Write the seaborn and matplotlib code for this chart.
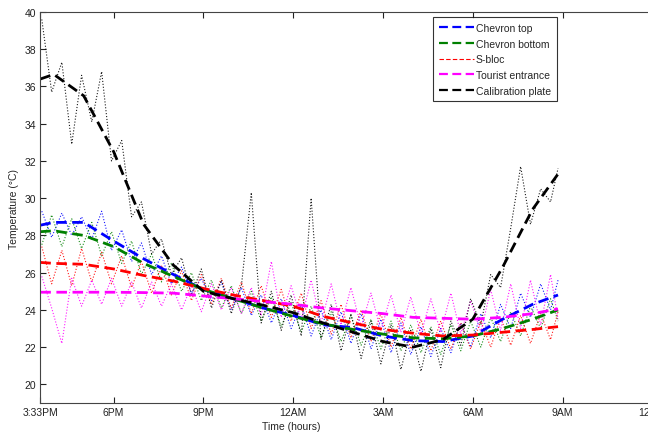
import numpy as np
import pandas as pd
import seaborn as sns
import matplotlib.pyplot as plt
from matplotlib.lines import Line2D

# Fitted (smoothed) curves, hours since midnight of day 1
fit_hours = [15.55, 16, 17, 18, 19, 20, 21, 22, 23, 24, 25, 26, 27, 28, 29, 30, 31, 32, 32.85]
fit_chevron_top = [28.55, 28.7, 28.7, 27.7, 26.75, 25.9, 25.1, 24.6, 24.1, 23.7, 23.2, 23.05, 22.6,
                   22.35, 22.3, 22.6, 23.5, 24.3, 24.8]
fit_chevron_bottom = [28.2, 28.25, 28.0, 27.4, 26.5, 25.8, 25.1, 24.6, 24.1, 23.65, 23.25, 22.95, 22.7,
                      22.5, 22.45, 22.6, 23.0, 23.5, 24.0]
fit_s_bloc = [26.55, 26.5, 26.45, 26.2, 25.85, 25.55, 25.15, 24.8, 24.5, 24.2, 23.65, 23.3, 22.95,
              22.75, 22.6, 22.65, 22.8, 22.95, 23.1]
fit_tourist = [24.95, 24.95, 24.95, 24.95, 24.93, 24.9, 24.75, 24.6, 24.45, 24.3, 24.1, 23.95, 23.8,
               23.6, 23.55, 23.5, 23.6, 23.8, 24.05]
fit_calibration = [36.4, 36.65, 35.5, 32.5, 28.6, 26.4, 25.0, 24.6, 24.25, 23.85, 23.3, 22.8, 22.3,
                   22.0, 22.4, 23.5, 26.3, 29.4, 31.3]

# Raw logger readings (every 20 min)
raw_hours = [15.6, 15.93, 16.27, 16.6, 16.93, 17.27, 17.6, 17.93, 18.27, 18.6, 18.93, 19.27, 19.6,
             19.93, 20.27, 20.6, 20.93, 21.27, 21.6, 21.93, 22.27, 22.6, 22.93, 23.27, 23.6, 23.93,
             24.27, 24.6, 24.93, 25.27, 25.6, 25.93, 26.27, 26.6, 26.93, 27.27, 27.6, 27.93, 28.27,
             28.6, 28.93, 29.27, 29.6, 29.93, 30.27, 30.6, 30.93, 31.27, 31.6, 31.93, 32.27, 32.6, 32.85]
raw_chevron_top = [29.3, 27.9, 29.2, 28.0, 29.0, 27.8, 29.3, 27.2, 28.3, 26.6, 27.6, 25.9, 26.9,
                   25.4, 26.3, 24.9, 25.7, 24.5, 25.5, 24.0, 25.2, 23.7, 24.8, 23.3, 24.6, 23.0,
                   24.3, 22.6, 24.0, 22.4, 23.9, 22.2, 23.8, 21.9, 23.5, 21.7, 23.3, 21.6, 23.1,
                   21.5, 23.0, 21.7, 23.3, 22.0, 23.8, 22.5, 24.3, 23.0, 24.9, 23.6, 25.4, 24.0, 25.6]
raw_chevron_bottom = [27.5, 29.1, 27.4, 28.9, 27.3, 28.7, 26.9, 28.2, 26.5, 27.7, 25.9, 27.0, 25.5,
                      26.5, 25.0, 26.0, 24.5, 25.6, 24.1, 25.3, 23.8, 25.0, 23.4, 24.7, 23.1, 24.4,
                      22.8, 24.2, 22.5, 23.9, 22.3, 23.7, 22.1, 23.5, 21.9, 23.4, 21.8, 23.2, 21.7,
                      23.1, 21.6, 23.2, 21.8, 23.4, 22.0, 23.6, 22.3, 23.9, 22.6, 24.2, 23.0, 24.6, 23.4]
raw_s_bloc = [27.4, 25.4, 27.2, 25.3, 27.3, 25.5, 27.1, 25.4, 26.9, 25.2, 26.6, 24.9, 26.4,
              24.8, 26.1, 24.5, 25.9, 24.3, 25.7, 24.1, 25.5, 23.8, 25.3, 23.6, 25.1, 23.4,
              24.9, 23.0, 24.5, 22.7, 24.3, 22.5, 24.0, 22.3, 23.8, 22.0, 23.6, 21.9, 23.5,
              21.8, 23.4, 21.9, 23.3, 21.9, 23.4, 22.0, 23.6, 22.1, 23.7, 22.2, 23.8, 22.4, 23.9]
raw_tourist = [25.8, 24.1, 22.2, 25.7, 24.2, 25.6, 24.3, 25.7, 24.2, 25.5, 24.1, 25.5, 24.2,
               25.4, 24.0, 25.3, 23.9, 25.4, 24.0, 25.2, 23.8, 25.2, 23.7, 26.6, 23.6, 25.3,
               23.5, 25.6, 23.3, 25.4, 23.2, 25.2, 23.1, 24.9, 22.9, 24.8, 22.8, 24.7, 22.7,
               24.6, 22.8, 24.9, 22.7, 24.5, 22.8, 25.1, 22.9, 25.4, 23.0, 25.6, 23.2, 25.9, 23.5]
raw_calibration = [39.6, 35.7, 37.3, 32.9, 36.6, 34.1, 36.8, 32.0, 33.1, 29.0, 29.8, 27.0, 27.8,
                   25.9, 26.8, 24.8, 26.2, 24.1, 25.6, 23.8, 25.3, 30.3, 23.3, 25.0, 22.9, 24.8,
                   22.6, 30.0, 22.4, 24.3, 21.8, 23.8, 21.4, 23.4, 21.1, 23.2, 20.8, 22.9, 20.7,
                   23.0, 20.9, 23.4, 22.1, 24.6, 23.2, 25.9, 25.2, 28.4, 31.7, 28.6, 30.5, 29.8, 31.6]

series = ['Chevron top', 'Chevron bottom', 'S-bloc', 'Tourist entrance', 'Calibration plate']
fits = [fit_chevron_top, fit_chevron_bottom, fit_s_bloc, fit_tourist, fit_calibration]
raws = [raw_chevron_top, raw_chevron_bottom, raw_s_bloc, raw_tourist, raw_calibration]
colors = ['#0000ff', '#008000', '#ff0000', '#ff00ff', '#000000']

tick_hours = [15.55, 18, 21, 24, 27, 30, 33, 36]
tick_labels = ['3:33PM', '6PM', '9PM', '12AM', '3AM', '6AM', '9AM', '12PM']

sns.set_style('ticks')
plt.rcParams['font.family'] = ['Liberation Sans', 'DejaVu Sans']

fig = plt.figure(figsize=(6.48, 4.35), dpi=100)
ax = fig.add_axes([40.3 / 648, 1 - 404 / 435, 612 / 648, 391 / 435])

# raw readings as thin dotted traces
for raw, c in zip(raws, colors):
    sns.lineplot(x=raw_hours, y=raw, color=c, lw=0.8, linestyle=':', ax=ax, alpha=0.9)

# fitted curves as thick dashed lines
for fit, c in zip(fits, colors):
    sns.lineplot(x=fit_hours, y=fit, color=c, lw=2, ax=ax, dashes=False)
    ax.lines[-1].set_dashes((3.8, 2))

ax.set_xlim(15.55, 36)
ax.set_ylim(19, 40)
ax.set_xticks(tick_hours)
ax.set_xticklabels(tick_labels)
ax.set_yticks(range(20, 41, 2))
ax.tick_params(direction='in', length=4, width=0.8, labelsize=7.5, pad=3, top=True, right=False,
               colors='#222222')
for s in ax.spines.values():
    s.set_linewidth(0.8)
    s.set_color('#444444')

ax.set_xlabel('Time (hours)', fontsize=7.5)
ax.set_ylabel('Temperature (°C)', fontsize=7.5)
ax.xaxis.set_label_coords(0.41, -0.045)
ax.yaxis.set_label_coords(-0.035, 0.5)

handles = []
for name, c in zip(series, colors):
    lw = 0.8 if name == 'S-bloc' else 1.6
    handles.append(Line2D([], [], color=c, lw=lw, dashes=(4, 2)))
leg = ax.legend(handles, series, loc='upper left', bbox_to_anchor=(0.642, 0.987), fontsize=7.5,
                frameon=True, fancybox=False, handlelength=3.4, handletextpad=0.15,
                borderpad=0.55, labelspacing=0.55, borderaxespad=0)
leg.get_frame().set_edgecolor('#000000')
leg.get_frame().set_linewidth(0.8)

fig.savefig('out.png', dpi=100)
